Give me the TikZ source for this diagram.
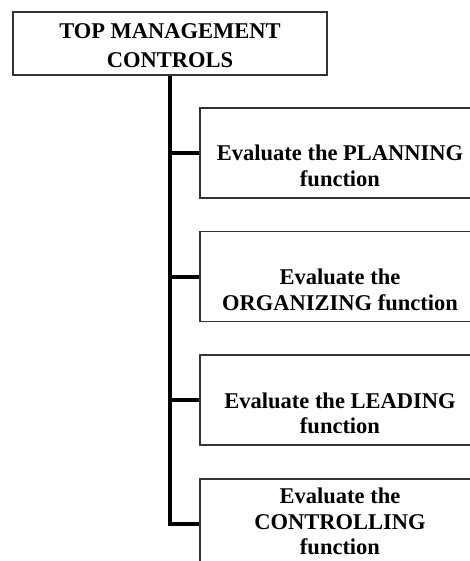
\documentclass[tikz,border=0pt]{standalone}
\usepackage{fontspec}
\setmainfont{Liberation Serif}
\usepackage{tikz}
\usetikzlibrary{positioning}

\begin{document}
\begin{tikzpicture}[
  x=1pt, y=1pt,
  node distance=32pt,
  topbox/.style={
    rectangle, draw=black!80, line width=1.6pt,
    minimum width=314pt, minimum height=63pt, inner sep=0pt
  },
  toptext/.style={
    align=center, inner sep=0pt,
    font=\bfseries\fontsize{22.5}{28.5}\selectfont
  },
  fnbox/.style={
    rectangle, draw=black!80, line width=1.6pt,
    minimum width=280pt, minimum height=90pt, inner sep=0pt
  },
  fntext/.style={
    align=center, inner sep=0pt,
    font=\bfseries\fontsize{22.5}{25.5}\selectfont
  },
  trunk/.style={draw, line width=4.5pt, color=black},
  branch/.style={draw, line width=4pt, color=black}
]

  \useasboundingbox (0,0) rectangle (470,561);
  \clip (0,0) rectangle (470,561);

  \node [topbox] (top) at (170,517.5) {};
  \node [fnbox] (plan) at (340,408) {};
  \node [fnbox, below=of plan] (org) {};
  \node [fnbox, below=of org] (lead) {};
  \node [fnbox, below=of lead] (ctrl) {};

  \node [toptext] (top-txt) at ([yshift=-2pt]top.center) {TOP MANAGEMENT\\CONTROLS};
  \node [fntext] (plan-txt) at ([yshift=-13pt]plan.center) {Evaluate the PLANNING\\function};
  \node [fntext] (org-txt) at ([yshift=-13pt]org.center) {Evaluate the\\ORGANIZING function};
  \node [fntext] (lead-txt) at ([yshift=-13pt]lead.center) {Evaluate the LEADING\\function};
  \node [fntext] (ctrl-txt) at ([yshift=2pt]ctrl.center) {Evaluate the\\CONTROLLING\\function};

  \coordinate (bend) at (top.south |- ctrl.west);

  \path [trunk] (top.south) -- ([yshift=-2pt]bend);
  \foreach \f in {plan, org, lead, ctrl}
    \path [branch] (top.south |- \f.west) -- (\f.west);

\end{tikzpicture}
\end{document}
